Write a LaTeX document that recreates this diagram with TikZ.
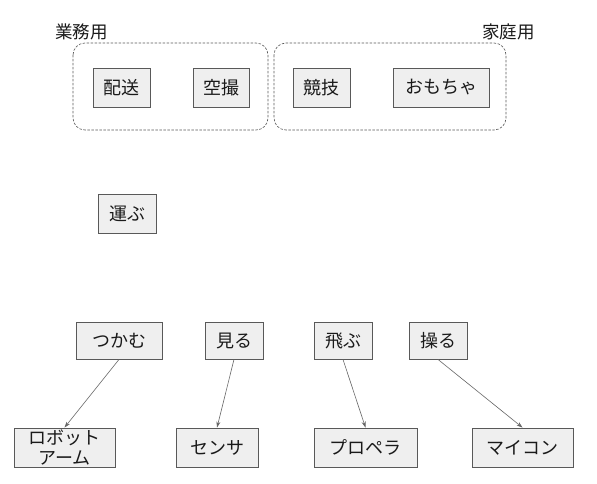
\documentclass[tikz,border=0pt]{standalone}
\usepackage{fontspec}
\setmainfont{Noto Sans CJK JP}
\usetikzlibrary{arrows.meta}
\definecolor{boxfill}{HTML}{EFEFEF}
\definecolor{boxline}{HTML}{595959}
\definecolor{arrline}{HTML}{666666}
\definecolor{txt}{HTML}{1A1A1A}
\begin{document}
\begin{tikzpicture}[x=1pt,y=-1pt,
  box/.style={draw=boxline, fill=boxfill, line width=0.9pt, inner sep=0pt, text=txt,
    font=\fontsize{18}{19}\selectfont, align=center},
  grp/.style={draw=boxline, dashed, dash pattern=on 2.5pt off 1.5pt, line width=0.6pt, rounded corners=12pt},
  lbl/.style={text=txt, font=\fontsize{17.5}{19}\selectfont, inner sep=0pt},
  conn/.style={draw=arrline, line width=0.6pt, -{Stealth[length=6pt,width=4pt]}}]
\useasboundingbox (0,0) rectangle (597,484);
\fill[white] (0,0) rectangle (597,484);
% groups
\draw[grp] (73,43) rectangle (268,130);
\draw[grp] (274,43) rectangle (506,130);
\node[lbl] (gyomu) at (81.5,32) {業務用};
\node[lbl] (katei) at (508.5,32) {家庭用};
% top boxes
\node[box, minimum width=57pt, minimum height=39pt] (haiso) at (121.5,87.5) {配送};
\node[box, minimum width=56pt, minimum height=39pt] (satsuei) at (221,87.5) {空撮};
\node[box, minimum width=57pt, minimum height=39pt] (kyogi) at (321.5,87.5) {競技};
\node[box, minimum width=96pt, minimum height=39pt] (omocha) at (441,87.5) {おもちゃ};
% middle
\node[box, minimum width=58pt, minimum height=39pt] (hakobu) at (127,213.5) {運ぶ};
% verbs
\node[box, minimum width=86pt, minimum height=37pt] (tsukamu) at (119,340.5) {つかむ};
\node[box, minimum width=58pt, minimum height=37pt] (miru) at (234,340.5) {見る};
\node[box, minimum width=58pt, minimum height=37pt] (tobu) at (343,340.5) {飛ぶ};
\node[box, minimum width=58pt, minimum height=37pt] (ayatsuru) at (438,340.5) {操る};
% parts
\node[box, minimum width=101pt, minimum height=39pt, font=\fontsize{18}{19.5}\selectfont] (robot) at (64.5,447.5) {ロボット\\アーム};
\node[box, minimum width=82pt, minimum height=39pt] (sensa) at (217,447.5) {センサ};
\node[box, minimum width=103pt, minimum height=39pt] (propera) at (365.5,447.5) {プロペラ};
\node[box, minimum width=101pt, minimum height=39pt] (maikon) at (522.5,447.5) {マイコン};
% connectors
\draw[conn] (tsukamu.south) -- (robot.north);
\draw[conn] (miru.south) -- (sensa.north);
\draw[conn] (tobu.south) -- (propera.north);
\draw[conn] (ayatsuru.south) -- (maikon.north);
\end{tikzpicture}
\end{document}
